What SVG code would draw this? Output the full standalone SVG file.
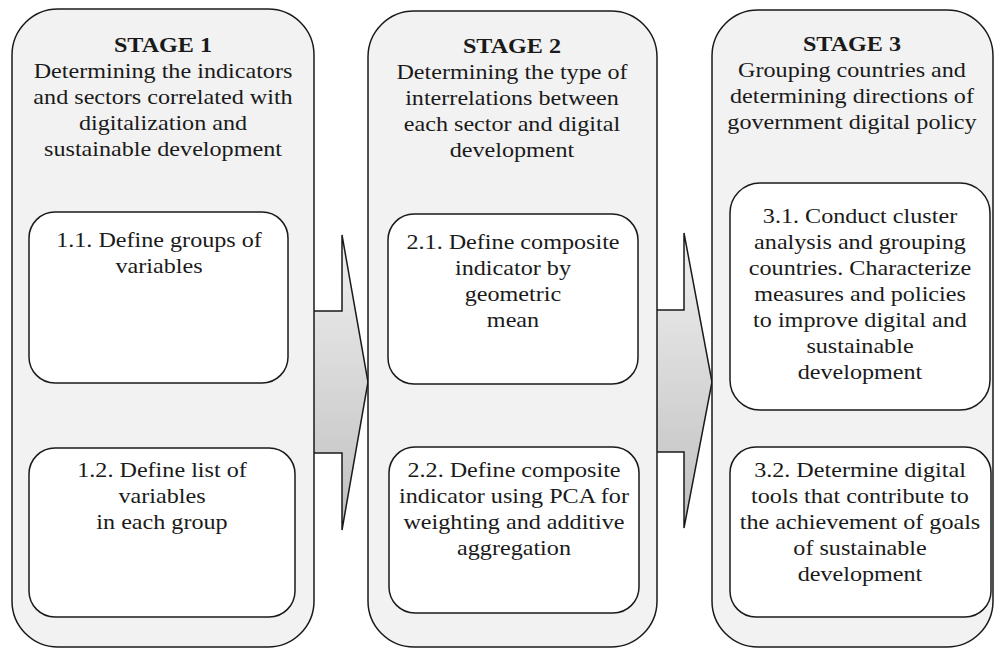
<svg xmlns="http://www.w3.org/2000/svg" width="995" height="648" viewBox="0 0 995 648">
<defs>
<linearGradient id="ag" x1="0" y1="0" x2="0" y2="1">
<stop offset="0" stop-color="#f0f0f0"/>
<stop offset="1" stop-color="#bfbfbf"/>
</linearGradient>
<style>
.stage{fill:#f2f2f2;stroke:#1a1a1a;stroke-width:1.5}
.box{fill:#ffffff;stroke:#1a1a1a;stroke-width:1.5}
.arrow{fill:url(#ag);stroke:#1a1a1a;stroke-width:1.5;stroke-linejoin:miter}
text{font-family:"Liberation Serif","Times New Roman",serif;font-size:21px;fill:#1a1a1a;text-anchor:middle}
.t{font-weight:bold}
</style>
</defs>
<rect width="995" height="648" fill="#ffffff"/>
<g id="connectors">
<polygon class="arrow" points="306,311 342,311 342,235 368,382 342,530 342,453 306,453"/>
<polygon class="arrow" points="650,310 684,310 684,233 712,382 684,528 684,452 650,452"/>
</g>
<g id="stage1">
<rect class="stage" x="12" y="9" width="302" height="638" rx="46" ry="46"/>
<g transform="translate(163,0) scale(1.15,1)">
<text x="0" y="52" class="t">STAGE 1</text>
<text x="0" y="78">Determining the indicators</text>
<text x="0" y="104">and sectors correlated with</text>
<text x="0" y="130">digitalization and</text>
<text x="0" y="156">sustainable development</text>
</g>
</g>
<g id="box11">
<rect class="box" x="29" y="212" width="259" height="171" rx="26" ry="26"/>
<g transform="translate(159,0) scale(1.15,1)">
<text x="0" y="247">1.1. Define groups of</text>
<text x="0" y="273">variables</text>
</g>
</g>
<g id="box12">
<rect class="box" x="29" y="448" width="266" height="169" rx="26" ry="26"/>
<g transform="translate(162,0) scale(1.15,1)">
<text x="0" y="477">1.2. Define list of</text>
<text x="0" y="503">variables</text>
<text x="0" y="529">in each group</text>
</g>
</g>
<g id="stage2">
<rect class="stage" x="368" y="11" width="289" height="636" rx="46" ry="46"/>
<g transform="translate(512,0) scale(1.15,1)">
<text x="0" y="53" class="t">STAGE 2</text>
<text x="0" y="79">Determining the type of</text>
<text x="0" y="105">interrelations between</text>
<text x="0" y="131">each sector and digital</text>
<text x="0" y="157">development</text>
</g>
</g>
<g id="box21">
<rect class="box" x="388" y="214" width="250" height="170" rx="26" ry="26"/>
<g transform="translate(513,0) scale(1.15,1)">
<text x="0" y="249">2.1. Define composite</text>
<text x="0" y="275">indicator by</text>
<text x="0" y="301">geometric</text>
<text x="0" y="327">mean</text>
</g>
</g>
<g id="box22">
<rect class="box" x="389" y="447" width="250" height="166" rx="26" ry="26"/>
<g transform="translate(514,0) scale(1.15,1)">
<text x="0" y="477">2.2. Define composite</text>
<text x="0" y="503">indicator using PCA for</text>
<text x="0" y="529">weighting and additive</text>
<text x="0" y="555">aggregation</text>
</g>
</g>
<g id="stage3">
<rect class="stage" x="712" y="10" width="281" height="637" rx="46" ry="46"/>
<g transform="translate(852,0) scale(1.15,1)">
<text x="0" y="51" class="t">STAGE 3</text>
<text x="0" y="77">Grouping countries and</text>
<text x="0" y="103">determining directions of</text>
<text x="0" y="129">government digital policy</text>
</g>
</g>
<g id="box31">
<rect class="box" x="730" y="183" width="260" height="227" rx="30" ry="30"/>
<g transform="translate(860,0) scale(1.15,1)">
<text x="0" y="223">3.1. Conduct cluster</text>
<text x="0" y="249">analysis and grouping</text>
<text x="0" y="275">countries. Characterize</text>
<text x="0" y="301">measures and policies</text>
<text x="0" y="327">to improve digital and</text>
<text x="0" y="353">sustainable</text>
<text x="0" y="379">development</text>
</g>
</g>
<g id="box32">
<rect class="box" x="730" y="447" width="261" height="170" rx="26" ry="26"/>
<g transform="translate(860,0) scale(1.15,1)">
<text x="0" y="477">3.2. Determine digital</text>
<text x="0" y="503">tools that contribute to</text>
<text x="0" y="529">the achievement of goals</text>
<text x="0" y="555">of sustainable</text>
<text x="0" y="581">development</text>
</g>
</g>
</svg>
